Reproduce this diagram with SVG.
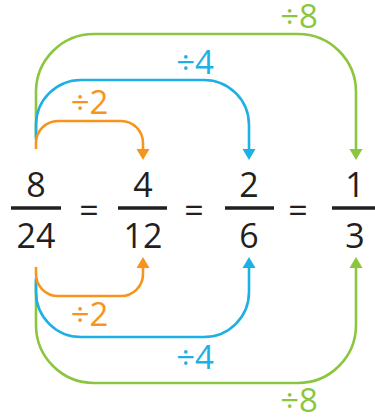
<svg xmlns="http://www.w3.org/2000/svg" width="375" height="417" viewBox="0 0 375 417">
<style>
.c{fill:none;stroke-width:2.6;stroke-linecap:butt}
.o{stroke:#F7941D}.b{stroke:#1CB0E6}.g{stroke:#8CC63F}
.fo{fill:#F7941D}.fb{fill:#1CB0E6}.fg{fill:#8CC63F}
.n{font-family:"Open Sans","Noto Sans",sans-serif;font-size:34px;fill:#231F20;text-anchor:middle}
.l{font-family:"Open Sans","Noto Sans",sans-serif;font-size:33px;text-anchor:middle}
.bar{stroke:#231F20;stroke-width:3.5}
</style>
<rect width="375" height="417" fill="#fff"/>
<g id="connectors">
<path class="c g" d="M36,138 V92 A58,58 0 0 1 94,34 H298 A58,58 0 0 1 356,92 V151"/>
<polygon class="fg" points="349.5,149 362.5,149 356,160"/>
<path class="c b" d="M36,140 V125 A45,45 0 0 1 81,80 H204 A45,45 0 0 1 249,125 V151"/>
<polygon class="fb" points="242.5,149 255.5,149 249,160"/>
<path class="c o" d="M36,149 V143 A22,22 0 0 1 58,121 H121 A22,22 0 0 1 143,143 V151"/>
<polygon class="fo" points="136.5,149 149.5,149 143,160"/>
<path class="c g" d="M36,280 V325 A58,58 0 0 0 94,383 H298 A58,58 0 0 0 356,325 V266"/>
<polygon class="fg" points="349.5,268 362.5,268 356,257"/>
<path class="c b" d="M36,278 V292 A45,45 0 0 0 81,337 H204 A45,45 0 0 0 249,292 V266"/>
<polygon class="fb" points="242.5,268 255.5,268 249,257"/>
<path class="c o" d="M36,267 V274 A22,22 0 0 0 58,296 H121 A22,22 0 0 0 143,274 V266"/>
<polygon class="fo" points="136.5,268 149.5,268 143,257"/>
</g>
<g id="label-top-8"><text class="l fg" x="299" y="28">÷8</text></g>
<g id="label-top-4"><text class="l fb" x="195" y="74">÷4</text></g>
<g id="label-top-2"><text class="l fo" x="89.5" y="114">÷2</text></g>
<g id="label-bot-2"><text class="l fo" x="89.5" y="326">÷2</text></g>
<g id="label-bot-4"><text class="l fb" x="195" y="369">÷4</text></g>
<g id="label-bot-8"><text class="l fg" x="299" y="412">÷8</text></g>
<g id="frac-8-24">
<text class="n" x="36" y="197">8</text>
<line class="bar" x1="11" y1="208" x2="61" y2="208"/>
<text class="n" x="36" y="248">24</text>
</g>
<g id="eq1"><text class="n" x="89" y="223">=</text></g>
<g id="frac-4-12">
<text class="n" x="143" y="197">4</text>
<line class="bar" x1="118" y1="208" x2="167" y2="208"/>
<text class="n" x="143" y="248">12</text>
</g>
<g id="eq2"><text class="n" x="194" y="223">=</text></g>
<g id="frac-2-6">
<text class="n" x="249" y="197">2</text>
<line class="bar" x1="225" y1="208" x2="274" y2="208"/>
<text class="n" x="249" y="248">6</text>
</g>
<g id="eq3"><text class="n" x="298" y="223">=</text></g>
<g id="frac-1-3">
<text class="n" x="355" y="197">1</text>
<line class="bar" x1="332" y1="208" x2="377" y2="208"/>
<text class="n" x="355" y="248">3</text>
</g>
</svg>
